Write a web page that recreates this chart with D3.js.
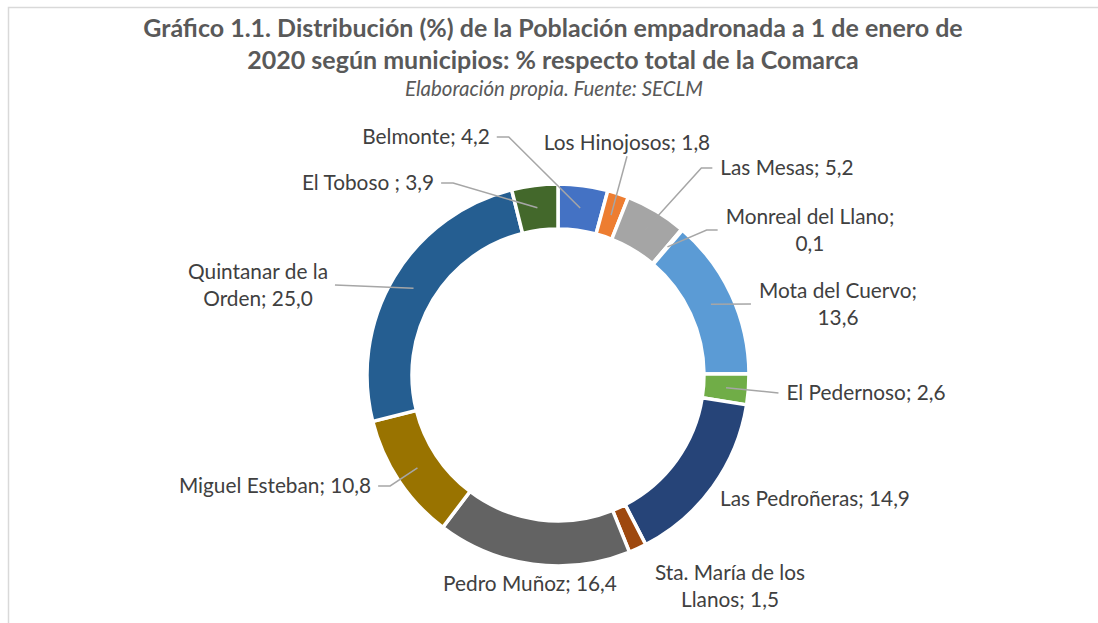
<!DOCTYPE html>
<html>
<head>
<meta charset="utf-8">
<script src="https://cdn.jsdelivr.net/npm/d3@7"></script>
<style>
  body { margin: 0; background: #fff; }
  svg { display: block; font-family: Lato, "Open Sans", sans-serif; }
</style>
</head>
<body>
<script>
// municipios, in the order Excel draws them (clockwise from 12 o'clock)
var municipios = ["Belmonte", "Los Hinojosos", "Las Mesas", "Monreal del Llano",
  "Mota del Cuervo", "El Pedernoso", "Las Pedroñeras", "Sta. María de los Llanos",
  "Pedro Muñoz", "Miguel Esteban", "Quintanar de la Orden", "El Toboso "];
var porcentajes = [4.2, 1.8, 5.2, 0.1, 13.6, 2.6, 14.9, 1.5, 16.4, 10.8, 25.0, 3.9];
var colores = ["#4472C4", "#ED7D31", "#A5A5A5", "#FFC000", "#5B9BD5", "#70AD47",
  "#264478", "#9E480E", "#636363", "#997300", "#255E91", "#43682B"];

var titulo = ["Gráfico 1.1. Distribución (%) de la Población empadronada a 1 de enero de",
  "2020 según municipios: % respecto total de la Comarca"];
var subtitulo = "Elaboración propia. Fuente: SECLM";

// where each data label sits (offset from centre), words on first line, leader side
var etiquetas = [
  { dx: -132, dy: -238, br: 0, leader: "right", elbow: true },
  { dx: 69,   dy: -232, br: 0, leader: "below" },
  { dx: 229,  dy: -207, br: 0, leader: "left", elbow: true },
  { dx: 252,  dy: -145, br: 3, leader: "left", elbow: true },
  { dx: 280,  dy: -71,  br: 3, leader: "left" },
  { dx: 308,  dy: 18,   br: 0, leader: "left" },
  { dx: 257,  dy: 124,  br: 0, leader: null },
  { dx: 172,  dy: 211,  br: 4, leader: null },
  { dx: -28,  dy: 209,  br: 0, leader: null },
  { dx: -283, dy: 111,  br: 0, leader: "right", elbow: true },
  { dx: -300, dy: -90,  br: 3, leader: "right" },
  { dx: -190, dy: -192, br: 0, leader: "right", elbow: true }
];

var W = 1098, H = 623;
var cx = 558, cy = 375;
var rIn = 146, rOut = 191;
var lineH = 26.5;

var data = municipios.map(function(m, i) {
  return { name: m, value: porcentajes[i], color: colores[i], lab: etiquetas[i] };
});

var svg = d3.select("body").append("svg")
  .attr("width", W).attr("height", H);

// chart frame (only top and left edges show in the crop)
svg.append("path")
  .attr("d", "M8.5," + H + "V7.5H" + W)
  .attr("fill", "none")
  .attr("stroke", "#d9d9d9")
  .attr("stroke-width", 1.5);

// title
svg.append("text")
  .attr("text-anchor", "middle")
  .attr("font-size", 25).attr("font-weight", "bold")
  .attr("fill", "#595959")
  .selectAll("tspan").data(titulo).enter().append("tspan")
  .attr("x", 553).attr("y", function(d, i) { return 37 + i * 32; })
  .text(function(d) { return d; });

svg.append("text")
  .attr("x", 554).attr("y", 96)
  .attr("text-anchor", "middle")
  .attr("font-size", 20.5).attr("font-style", "italic")
  .attr("fill", "#595959")
  .text(subtitulo);

var pie = d3.pie().sort(null).value(function(d) { return d.value; });
var arc = d3.arc().innerRadius(rIn).outerRadius(rOut);

var g = svg.append("g").attr("transform", "translate(" + cx + "," + cy + ")");

g.selectAll("path.slice")
  .data(pie(data))
  .enter().append("path")
  .attr("class", "slice")
  .attr("d", arc)
  .attr("fill", function(d) { return d.data.color; })
  .attr("stroke", "#fff")
  .attr("stroke-width", 3.5);

var fmt = function(v) { return v.toFixed(1).replace(".", ","); };

// labels
var labs = g.selectAll("text.lab")
  .data(pie(data))
  .enter().append("text")
  .attr("class", "lab")
  .attr("text-anchor", "middle")
  .attr("font-size", 20.8)
  .attr("fill", "#404040")
  .each(function(d) {
    var words = (d.data.name + "; " + fmt(d.data.value)).split(" ");
    var L = d.data.lab;
    var lines = L.br ? [words.slice(0, L.br).join(" "), words.slice(L.br).join(" ")]
                     : [words.join(" ")];
    var t = d3.select(this);
    var y0 = L.dy - (lines.length - 1) * lineH / 2;
    lines.forEach(function(s, i) {
      t.append("tspan")
        .attr("x", L.dx)
        .attr("y", y0 + i * lineH)
        .attr("dy", "0.35em")
        .text(s);
    });
  });

// leader lines: from the label edge (with a short elbow) to the slice centroid
var line = d3.line();
labs.each(function(d) {
  var L = d.data.lab;
  if (!L.leader) return;
  var bb = this.getBBox();
  var c = arc.centroid(d);
  var pts;
  if (L.leader === "right") {
    var x0 = bb.x + bb.width + 7;
    pts = [[x0, L.dy]];
    if (L.elbow) pts.push([x0 + 12, L.dy]);
  } else if (L.leader === "left") {
    var x1 = bb.x - 8;
    pts = [[x1, L.dy]];
    if (L.elbow) pts.push([x1 - 11, L.dy]);
  } else {
    pts = [[L.dx, bb.y + bb.height + 2]];
  }
  pts.push(c);
  g.append("path")
    .attr("d", line(pts))
    .attr("fill", "none")
    .attr("stroke", "#a6a6a6")
    .attr("stroke-width", 1.5);
});
</script>
</body>
</html>
